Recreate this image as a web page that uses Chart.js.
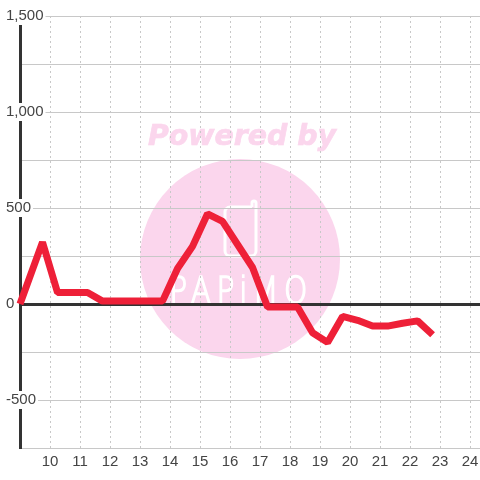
<!DOCTYPE html>
<html>
<head>
<meta charset="utf-8">
<style>
  html, body { margin: 0; padding: 0; background: #fff; }
  canvas { display: block; }
</style>
<script src="https://cdn.jsdelivr.net/npm/chart.js@4"></script>
</head>
<body>
<canvas id="chart" width="480" height="480"></canvas>
<script>
const hours = [9, 9.75, 10.25, 10.75, 11.25, 11.75, 12.25, 12.75, 13.25, 13.75, 14.25, 14.75, 15.25, 15.75, 16.25, 16.75, 17.25, 17.75, 18.25, 18.75, 19.25, 19.75, 20.25, 20.75, 21.25, 21.75, 22.25, 22.75];
const values = [0, 322, 60, 60, 60, 15, 15, 15, 15, 15, 185, 300, 470, 430, 310, 190, -15, -15, -15, -150, -200, -65, -85, -115, -115, -100, -88, -160];

// watermark sits behind the grid
const watermark = {
    id: 'watermark',
    beforeDraw(chart) {
        const c = chart.ctx;
        c.save();
        c.fillStyle = '#fff';
        c.fillRect(0, 0, 480, 480);
        c.fillStyle = '#fbd6ed';
        c.strokeStyle = '#fbd6ed';
        c.beginPath();
        c.arc(240, 259, 100, 0, Math.PI * 2);
        c.fill();
        c.font = 'italic bold 28.4px "DejaVu Sans"';
        c.textAlign = 'center';
        c.textBaseline = 'alphabetic';
        c.lineWidth = 0.7;
        c.fillText('Powered by', 242, 145);
        c.strokeText('Powered by', 242, 145);

        // phone icon
        c.strokeStyle = '#fff';
        c.lineWidth = 3;
        c.beginPath();
        c.moveTo(252, 207);
        c.lineTo(230, 207);
        c.arcTo(225, 207, 225, 212, 5);
        c.lineTo(225, 251);
        c.arcTo(225, 256, 230, 256, 5);
        c.lineTo(251, 256);
        c.arcTo(256, 256, 256, 251, 5);
        c.lineTo(256, 203);
        c.arc(254, 203, 2, 0, Math.PI, true);
        c.lineTo(252, 207);
        c.stroke();

        c.fillStyle = '#fff';
        c.lineWidth = 1.6;
        c.font = '200 38px "DejaVu Sans"';
        c.letterSpacing = '7px';
        c.save();
        c.translate(241, 303);
        c.scale(0.78, 1);
        c.fillText('PAPiMO', 0, 0);
        c.strokeText('PAPiMO', 0, 0);
        c.restore();
        c.restore();
    }
};

new Chart(document.getElementById('chart'), {
    type: 'line',
    data: {
        labels: hours,
        datasets: [{
            data: hours.map((h, i) => ({ x: h, y: values[i] })),
            borderColor: '#ee2038',
            borderWidth: 7,
            borderJoinStyle: 'bevel',
            pointRadius: 0,
            tension: 0,
            clip: false
        }]
    },
    options: {
        responsive: false,
        animation: false,
        layout: { padding: { top: 16, left: 6, right: 0, bottom: 0 } },
        plugins: { legend: { display: false }, tooltip: { enabled: false } },
        scales: {
            x: {
                type: 'linear',
                min: 9,
                max: 24.33,
                afterFit(scale) { scale.height = 32; scale.paddingLeft = 0; scale.paddingRight = 0; },
                border: { display: false, dash: [2, 3] },
                grid: {
                    drawTicks: false,
                    color: ctx => ctx.tick.value < 10 ? 'transparent' : '#c8c8c8',
                    lineWidth: 1
                },
                ticks: {
                    stepSize: 1,
                    includeBounds: false,
                    autoSkip: false,
                    maxRotation: 0,
                    padding: 5,
                    color: '#444',
                    font: { family: '"Liberation Sans"', size: 15 },
                    callback: v => v < 10 ? '' : String(v)
                }
            },
            y: {
                min: -750,
                max: 1500,
                afterFit(scale) { scale.width = 14; scale.paddingTop = 0; scale.paddingBottom = 0; },
                border: { display: true, color: '#333', width: 3, z: 0 },
                grid: {
                    drawTicks: false,
                    color: ctx => ctx.tick.value === 0 ? '#333' : '#c8c8c8',
                    lineWidth: ctx => ctx.tick.value === 0 ? 3 : 1
                },
                ticks: {
                    stepSize: 250,
                    autoSkip: false,
                    mirror: true,
                    padding: -14,
                    crossAlign: 'near',
                    color: '#444',
                    font: { family: '"Liberation Sans"', size: 15 },
                    showLabelBackdrop: ctx => ctx.tick.value % 500 === 0,
                    backdropColor: '#fff',
                    backdropPadding: { x: 2, y: 0 },
                    callback: v => v % 500 === 0 ? v.toLocaleString('en-US') : ''
                }
            }
        }
    },
    plugins: [watermark]
});
</script>
</body>
</html>
